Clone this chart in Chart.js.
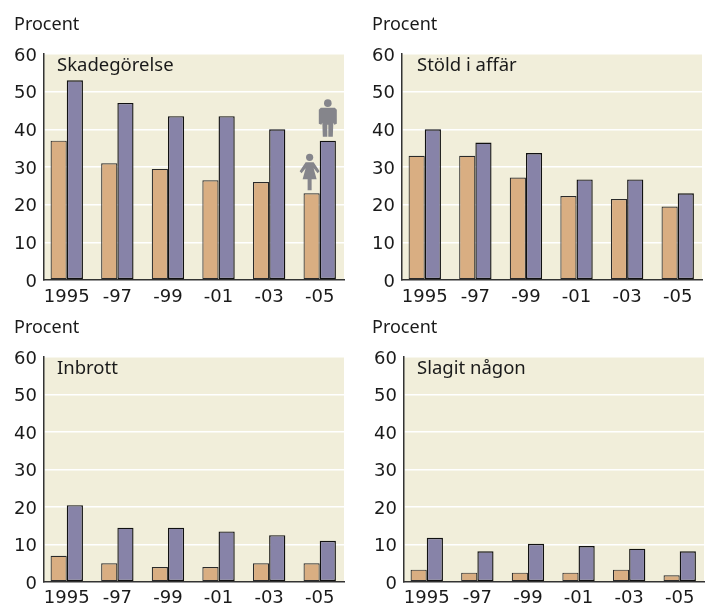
<!DOCTYPE html>
<html>
<head>
<meta charset="utf-8">
<script src="https://cdn.jsdelivr.net/npm/chart.js@4"></script>
<style>
body{margin:0;background:#fff;width:708px;height:607px;overflow:hidden;position:relative}
canvas{position:absolute}
</style>
</head>
<body>
<canvas id="c1" style="left:0;top:0" width="354" height="307"></canvas>
<canvas id="c2" style="left:354px;top:0" width="354" height="307"></canvas>
<canvas id="c3" style="left:0;top:305px" width="354" height="302"></canvas>
<canvas id="c4" style="left:354px;top:305px" width="354" height="302"></canvas>
<script>
var years=["1995","-97","-99","-01","-03","-05"];
var yTicks=[0,10,20,30,40,50,60];
var skadeKvinnor=[37,31,29.5,26.5,26,23];
var skadeMan=[53,47,43.5,43.5,40,37];
var stoldKvinnor=[33,33,27.2,22.3,21.5,19.5];
var stoldMan=[40,36.5,33.7,26.7,26.7,23];
var inbrottKvinnor=[7,5,4,4,5,5];
var inbrottMan=[20.5,14.5,14.5,13.5,12.5,11];
var slagitKvinnor=[3.3,2.5,2.5,2.5,3.3,1.8];
var slagitMan=[11.8,8.2,10.2,9.6,8.9,8.2];

var LABEL_FONT='"Noto Sans"';
var TICK_FONT='"DejaVu Sans"';
Chart.defaults.animation=false;
Chart.defaults.font.family=TICK_FONT;
Chart.defaults.color="#1a1a1a";

function points(arr){
    return arr.map(function(v,i){return {x:i,y:v};});
}

// panel background, "Procent" and the name of the panel
var panelPlugin={
    id:"panel",
    beforeDraw:function(chart){
        var a=chart.chartArea,ctx=chart.ctx;
        ctx.save();
        ctx.fillStyle="#f1eeda";
        ctx.fillRect(a.left,a.top,a.right-a.left,a.bottom-a.top);
        ctx.restore();
        // y labels sit a little under their grid lines in the original
        chart.scales.y.getLabelItems().forEach(function(item){item.textOffset+=2;});
    },
    afterDraw:function(chart,args,opts){
        var a=chart.chartArea,ctx=chart.ctx;
        ctx.save();
        ctx.fillStyle="#1a1a1a";
        ctx.textBaseline="alphabetic";
        ctx.font="18px "+LABEL_FONT;
        ctx.fillText("Procent",opts.procentX,a.top-24);
        ctx.font="18.5px "+LABEL_FONT;
        ctx.fillText(opts.name,opts.nameX,a.top+17);
        ctx.restore();
    }
};

// the small man and woman over the last pair of bars
var peoplePlugin={
    id:"people",
    afterDatasetsDraw:function(chart){
        var ctx=chart.ctx;
        var fBar=chart.getDatasetMeta(0).data[5];
        var mBar=chart.getDatasetMeta(1).data[5];
        ctx.save();
        ctx.fillStyle="#85858b";
        // man
        var x=mBar.x,y=mBar.y-4;
        ctx.beginPath();
        ctx.arc(x,y-33.5,3.8,0,Math.PI*2);
        ctx.fill();
        ctx.beginPath();
        ctx.moveTo(x-7,y-29);
        ctx.lineTo(x+7,y-29);
        ctx.lineTo(x+9,y-27);
        ctx.lineTo(x+9,y-13);
        ctx.lineTo(x+6.5,y-12);
        ctx.lineTo(x+5.5,y-14);
        ctx.lineTo(x+5,y);
        ctx.lineTo(x+0.5,y);
        ctx.lineTo(x+0.5,y-12);
        ctx.lineTo(x-0.5,y-12);
        ctx.lineTo(x-0.5,y);
        ctx.lineTo(x-5,y);
        ctx.lineTo(x-5.5,y-14);
        ctx.lineTo(x-6.5,y-12);
        ctx.lineTo(x-9,y-13);
        ctx.lineTo(x-9,y-27);
        ctx.closePath();
        ctx.fill();
        // woman
        x=fBar.x-3;y=fBar.y-3;
        ctx.beginPath();
        ctx.arc(x+1,y-33,3.6,0,Math.PI*2);
        ctx.fill();
        ctx.beginPath();
        ctx.moveTo(x-3,y-28);
        ctx.lineTo(x+5,y-28);
        ctx.lineTo(x+11,y-19);
        ctx.lineTo(x+9,y-17);
        ctx.lineTo(x+5,y-22);
        ctx.lineTo(x+8,y-11);
        ctx.lineTo(x+3,y-11);
        ctx.lineTo(x+3,y);
        ctx.lineTo(x-1,y);
        ctx.lineTo(x-1,y-11);
        ctx.lineTo(x-6,y-11);
        ctx.lineTo(x-3,y-22);
        ctx.lineTo(x-7,y-17);
        ctx.lineTo(x-9,y-19);
        ctx.closePath();
        ctx.fill();
        ctx.restore();
    }
};

function makeChart(id,name,kvinnor,man,opts){
    var plugins=[panelPlugin];
    if(opts.people) plugins.push(peoplePlugin);
    return new Chart(document.getElementById(id),{
        type:"bar",
        data:{datasets:[
            {label:"Kvinnor",data:points(kvinnor),backgroundColor:"#d9ae82",borderColor:"#2a2a2a",borderWidth:1.2,borderSkipped:false,
             barPercentage:1,categoryPercentage:0.64},
            {label:"Män",data:points(man),backgroundColor:"#8783a8",borderColor:"#111",borderWidth:1.4,borderSkipped:false,
             barPercentage:1,categoryPercentage:0.64}
        ]},
        plugins:plugins,
        options:{
            responsive:false,
            layout:{padding:{left:0,right:opts.right,top:opts.top,bottom:0}},
            plugins:{
                legend:{display:false},
                tooltip:{enabled:false},
                panel:{name:name,procentX:opts.procentX,nameX:opts.nameX}
            },
            scales:{
                x:{
                    type:"linear",
                    offset:false,
                    min:-0.45,
                    max:5.48,
                    afterBuildTicks:function(axis){
                        axis.ticks=years.map(function(c,i){return {value:i};});
                    },
                    afterFit:function(axis){axis.height=opts.xHeight;},
                    grid:{display:false,drawTicks:false},
                    border:{display:true,color:"#333",width:1.5},
                    ticks:{
                        autoSkip:false,
                        maxRotation:0,
                        padding:opts.xPad,
                        font:{size:18},
                        callback:function(v){return years[v];}
                    }
                },
                y:{
                    min:0,
                    max:60,
                    afterBuildTicks:function(axis){
                        axis.ticks=yTicks.map(function(v){return {value:v};});
                    },
                    afterFit:function(axis){axis.width=opts.yWidth;},
                    grid:{color:"#fff",lineWidth:1.5,drawTicks:false},
                    border:{display:true,color:"#333",width:1.5},
                    ticks:{padding:7,font:{size:18}}
                }
            }
        }
    });
}

makeChart("c1","Skadegörelse",skadeKvinnor,skadeMan,{right:10,top:54,yWidth:44,xHeight:27,xPad:7,procentX:14,nameX:57,people:true});
makeChart("c2","Stöld i affär",stoldKvinnor,stoldMan,{right:6,top:54,yWidth:48,xHeight:27,xPad:7,procentX:18,nameX:63});
makeChart("c3","Inbrott",inbrottKvinnor,inbrottMan,{right:10,top:52,yWidth:44,xHeight:25,xPad:6,procentX:14,nameX:57});
makeChart("c4","Slagit någon",slagitKvinnor,slagitMan,{right:4,top:52,yWidth:50,xHeight:25,xPad:6,procentX:18,nameX:63});
</script>
</body>
</html>
